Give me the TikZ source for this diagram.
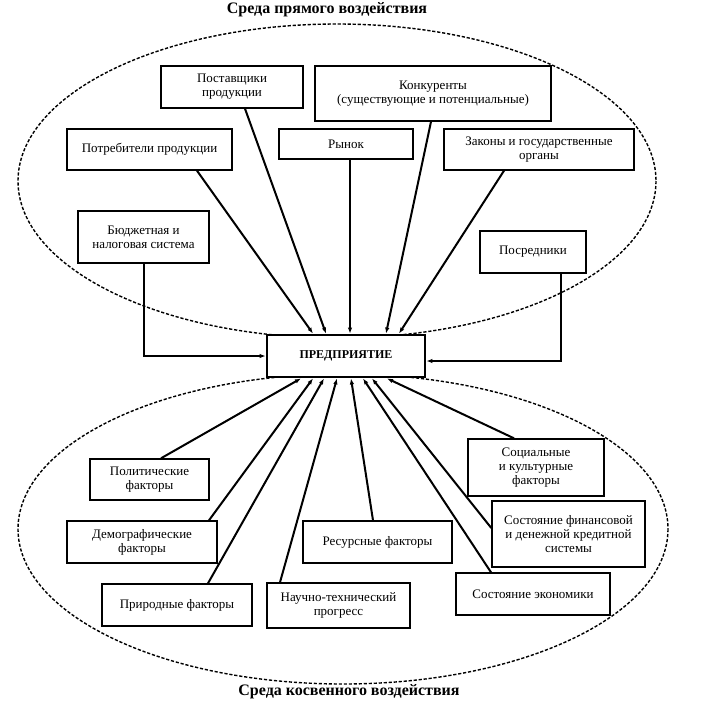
\documentclass[tikz,border=0pt]{standalone}
\usepackage{fontspec}
\setmainfont{Liberation Serif}
\usetikzlibrary{arrows.meta}

\begin{document}
\begin{tikzpicture}[x=1pt,y=-1pt,>={Latex[length=6pt,width=4.5pt]},
  box/.style={draw,line width=1.4pt,fill=white,align=center,inner sep=1pt,
    font=\fontsize{13}{14}\selectfont},
  env/.style={draw,dash pattern=on 3.2pt off 1.8pt,line width=1.4pt},
  link/.style={->,line width=2pt},
  envtitle/.style={font=\bfseries\fontsize{16}{17}\selectfont}]
\useasboundingbox (0,0) rectangle (713,707);
% two environments
\draw[env] (337,181) ellipse [x radius=319, y radius=157];
\draw[env] (343,529) ellipse [x radius=325, y radius=155];
\path
(327,9.5) node[envtitle] (ttop) {Среда прямого воздействия}
(349,692) node[envtitle] (tbot) {Среда косвенного воздействия};
% direct environment
\path
(232,87)    node[box,minimum width=142pt,minimum height=42pt] (post) {Поставщики\\продукции}
(433,93.5)  node[box,minimum width=236pt,minimum height=55pt] (konk) {Конкуренты\\(существующие и потенциальные)}
(149.5,149.5) node[box,minimum width=165pt,minimum height=41pt] (potr) {Потребители продукции}
(346,144)   node[box,minimum width=134pt,minimum height=30pt] (rynok) {Рынок}
(539,149.5) node[box,minimum width=190pt,minimum height=41pt] (zakon) {Законы и государственные\\органы}
(143.5,237) node[box,minimum width=131pt,minimum height=52pt] (budget) {Бюджетная и\\налоговая система}
(533,252)   node[box,minimum width=106pt,minimum height=42pt] (posr) {Посредники};
\path
(346,356) node[box,line width=2.8pt,minimum width=158pt,minimum height=42pt,
  font=\bfseries\fontsize{12}{13}\selectfont] (pr) {ПРЕДПРИЯТИЕ};
% indirect environment
\path
(149.5,479.5) node[box,minimum width=119pt,minimum height=41pt] (polit) {Политические\\факторы}
(142,542)   node[box,minimum width=150pt,minimum height=42pt] (demo) {Демографические\\факторы}
(177,605)   node[box,minimum width=150pt,minimum height=42pt] (prir) {Природные факторы}
(338.5,605.5) node[box,minimum width=143pt,minimum height=45pt] (nauch) {Научно-технический\\прогресс}
(377.5,542) node[box,minimum width=149pt,minimum height=42pt] (res) {Ресурсные факторы}
(533,594)   node[box,minimum width=154pt,minimum height=42pt] (econ) {Состояние экономики}
(568.5,534) node[box,minimum width=153pt,minimum height=66pt] (fin) {Состояние финансовой\\и денежной кредитной\\системы}
(536,467.5) node[box,minimum width=136pt,minimum height=57pt] (soc) {Социальные\\и культурные\\факторы};
% arrows from above
\draw[link] ([xshift=47.5pt]potr.south) -- ([xshift=-33pt]pr.north);
\draw[link] ([xshift=13pt]post.south) -- ([xshift=-20pt]pr.north);
\draw[link] ([xshift=4pt]rynok.south) -- ([xshift=4pt]pr.north);
\draw[link] ([xshift=-2pt]konk.south) -- ([xshift=40pt]pr.north);
\draw[link] ([xshift=-35pt]zakon.south) -- ([xshift=53pt]pr.north);
\draw[link] (budget.south) |- (pr.west);
\draw[link] ([xshift=28pt]posr.south) |- ([yshift=-5pt]pr.east);
% arrows from below
\draw[link] ([xshift=11.5pt]polit.north) -- ([xshift=-45pt]pr.south);
\draw[link] ([xshift=67pt]demo.north) -- ([xshift=-33pt]pr.south);
\draw[link] ([xshift=31pt]prir.north) -- ([xshift=-22pt]pr.south);
\draw[link] ([xshift=-58.5pt]nauch.north) -- ([xshift=-9pt]pr.south);
\draw[link] ([xshift=-4.5pt]res.north) -- ([xshift=5pt]pr.south);
\draw[link] ([xshift=-42pt]econ.north) -- ([xshift=17pt]pr.south);
\draw[link] ([yshift=6pt]fin.west) -- ([xshift=26pt]pr.south);
\draw[link] ([xshift=-22pt]soc.north) -- ([xshift=41pt]pr.south);
\end{tikzpicture}
\end{document}
